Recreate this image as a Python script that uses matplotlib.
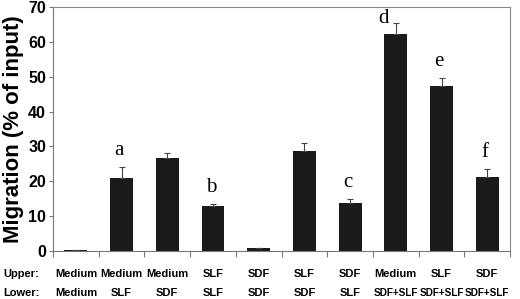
import numpy as np
import matplotlib
matplotlib.use("Agg")
import matplotlib.pyplot as plt

# chart data
upper = ["Medium", "Medium", "Medium", "SLF", "SDF", "SLF", "SDF", "Medium", "SLF", "SDF"]
lower = ["Medium", "SLF", "SDF", "SLF", "SDF", "SDF", "SLF", "SDF+SLF", "SDF+SLF", "SDF+SLF"]
migration = [0.2, 21.0, 26.6, 12.9, 0.8, 28.8, 13.7, 62.3, 47.3, 21.2]
err = [0.1, 3.0, 1.4, 0.5, 0.1, 2.2, 1.1, 3.1, 2.3, 2.2]
letters = ["", "a", "", "b", "", "", "c", "d", "e", "f"]
yticks = [0, 10, 20, 30, 40, 50, 60, 70]

fig = plt.figure(figsize=(5.2, 2.99), dpi=100)
ax = fig.add_axes([0.102, 0.1605, 0.879, 0.816])

x = np.arange(len(migration))
ax.bar(x, migration, width=0.5, color="#1a1a1a", zorder=2)
ax.errorbar(x, migration, yerr=[np.zeros(len(err)), err], fmt="none",
            ecolor="#444444", elinewidth=0.8, capsize=2.5, capthick=0.8, zorder=3)

for xi, v, e, s in zip(x, migration, err, letters):
    if not s:
        continue
    if s == "d":
        # the "d" sits beside its error bar
        ax.text(xi - 0.28, v + e - 1.5, s, ha="center", va="bottom",
                family="Liberation Serif", fontsize=15)
    else:
        ax.text(xi - 0.05, v + e + 2.0, s, ha="center", va="bottom",
                family="Liberation Serif", fontsize=15)

ax.set_xlim(-0.5, len(x) - 0.5)
ax.set_ylim(0, 70)
ax.set_yticks(yticks)
ax.set_yticklabels([str(t) for t in yticks], fontweight="bold", fontsize=11.5,
                   family="Liberation Sans")
ax.set_xticks(np.arange(len(x) + 1) - 0.5)
ax.set_xticklabels([])
ax.tick_params(axis="x", direction="out", length=4, color="#777777")
ax.tick_params(axis="y", direction="out", length=3, color="#777777", pad=2)

for side in ["top", "right"]:
    ax.spines[side].set_color("#888888")
    ax.spines[side].set_linewidth(0.8)
ax.spines["left"].set_color("#777777")
ax.spines["bottom"].set_color("#777777")

ax.set_ylabel("Migration (% of input)", fontweight="bold", fontsize=16,
              family="Liberation Sans", labelpad=3)

# category rows below the axis
for xi, u, l in zip(x, upper, lower):
    fs = 7.2 if "+" in l else 8
    ax.text(xi, -6.5, u, ha="center", va="center", fontweight="bold",
            fontsize=8, family="Liberation Sans", clip_on=False)
    ax.text(xi, -12.0, l, ha="center", va="center", fontweight="bold",
            fontsize=fs, family="Liberation Sans", clip_on=False)
fig.text(0.006, 1 - 274 / 299, "Upper:", ha="left", va="center",
         fontweight="bold", fontsize=8, family="Liberation Sans")
fig.text(0.006, 1 - 293 / 299, "Lower:", ha="left", va="center",
         fontweight="bold", fontsize=8, family="Liberation Sans")

fig.savefig("out.png", dpi=100)
